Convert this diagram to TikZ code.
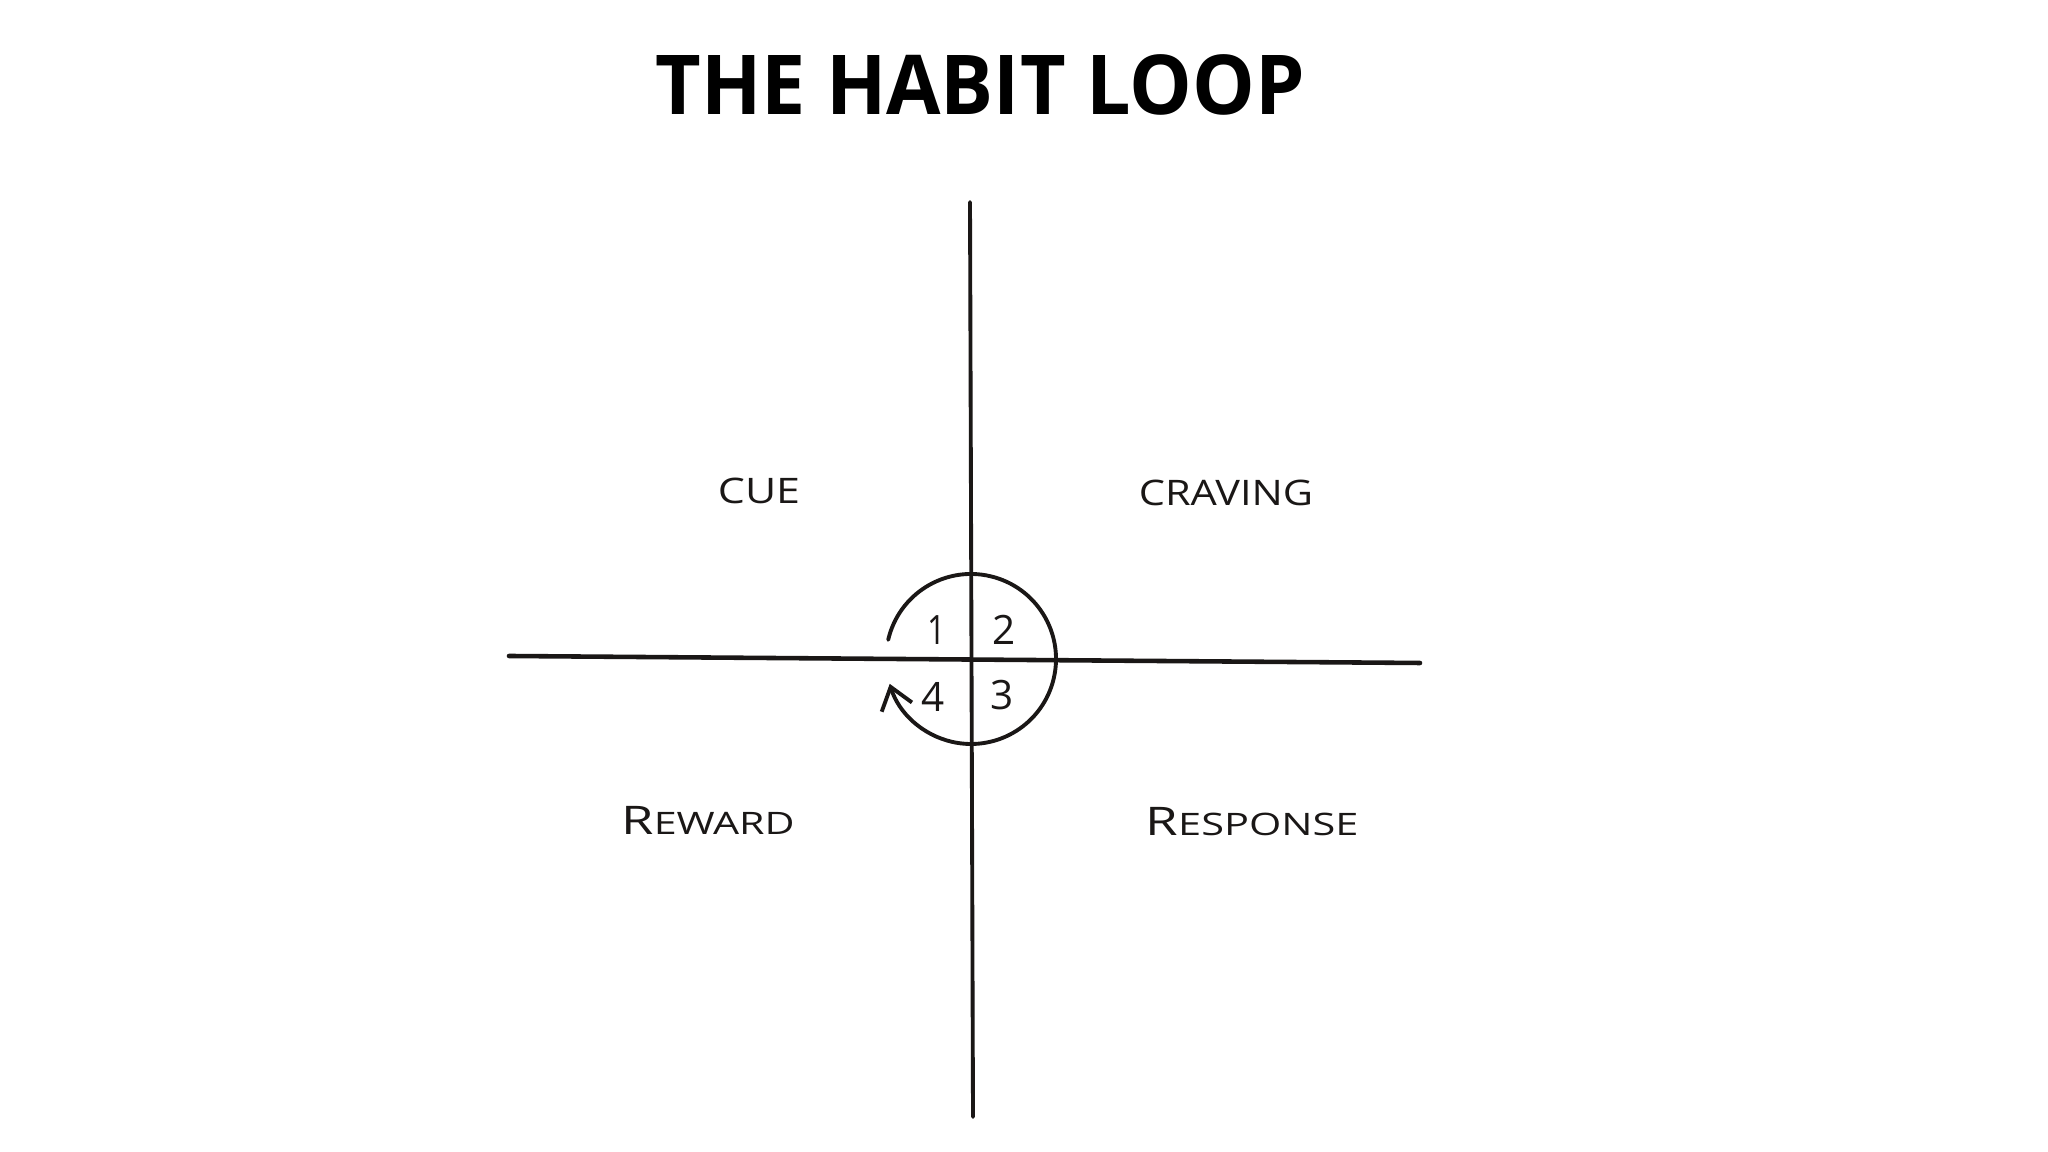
\documentclass[tikz,border=0pt]{standalone}
\usepackage{fontspec}
\setmainfont{Open Sans}
\usetikzlibrary{arrows.meta,calc}
\definecolor{ink}{HTML}{1A1716}
\tikzset{
  axis/.style={draw=ink, line width=1.1pt, line cap=round},
  loop/.style={draw=ink, line width=1.1pt, line cap=round},
  label/.style={text=ink, inner sep=0pt, font=\fontsize{10}{12}\selectfont},
  digit/.style={text=ink, inner sep=0pt, font=\fontsize{11.5}{13}\selectfont},
  title/.style={text=black, inner sep=0pt, font=\bfseries\fontsize{23.5}{28}\selectfont}
}
\newcommand{\hwx}[2]{\scalebox{#1}[1]{#2}}
\begin{document}
\begin{tikzpicture}[x=0.01cm, y=0.01cm]
  \fill[white] (0,0) rectangle (2048,1152);
  \useasboundingbox (0,0) rectangle (2048,1152);

  % title
  \node[title] (title) at (980,1067) {\hwx{0.955}{THE HABIT LOOP}};

  % axes
  \coordinate (vtop) at (970,950);
  \coordinate (vbot) at (973,35);
  \coordinate (hleft) at (509,496);
  \coordinate (hright) at (1420,489);
  \draw[axis] (vtop) -- (vbot);
  \draw[axis, line width=1.3pt] (hleft) -- (hright);

  % loop circle with arrow
  \coordinate (c) at (971,493);
  \coordinate (arcstart) at ($(c)+(167:85)$);
  \draw[loop, -{Straight Barb[length=6pt, width=9pt, line width=1.1pt]}]
    (arcstart) arc[start angle=167, end angle=-163, radius=85];

  % digits
  \node[digit] (d1) at (937,522) {\hwx{0.8}{1}};
  \node[digit] (d2) at (1004,522) {2};
  \node[digit] (d4) at (933,455) {4};
  \node[digit] (d3) at (1002,457) {3};

  % quadrant labels
  \node[label] (cue) at (759,661) {\hwx{1.22}{CUE}};
  \node[label] (craving) at (1226,659) {\hwx{1.18}{CRAVING}};
  \node[label] (reward) at (708,332) {\hwx{1.33}{{\fontsize{11.2}{13}\selectfont R}{\fontsize{8.8}{11}\selectfont EWARD}}};
  \node[label] (response) at (1252,330) {\hwx{1.34}{{\fontsize{11.2}{13}\selectfont R}{\fontsize{8.8}{11}\selectfont ESPONSE}}};
\end{tikzpicture}
\end{document}
